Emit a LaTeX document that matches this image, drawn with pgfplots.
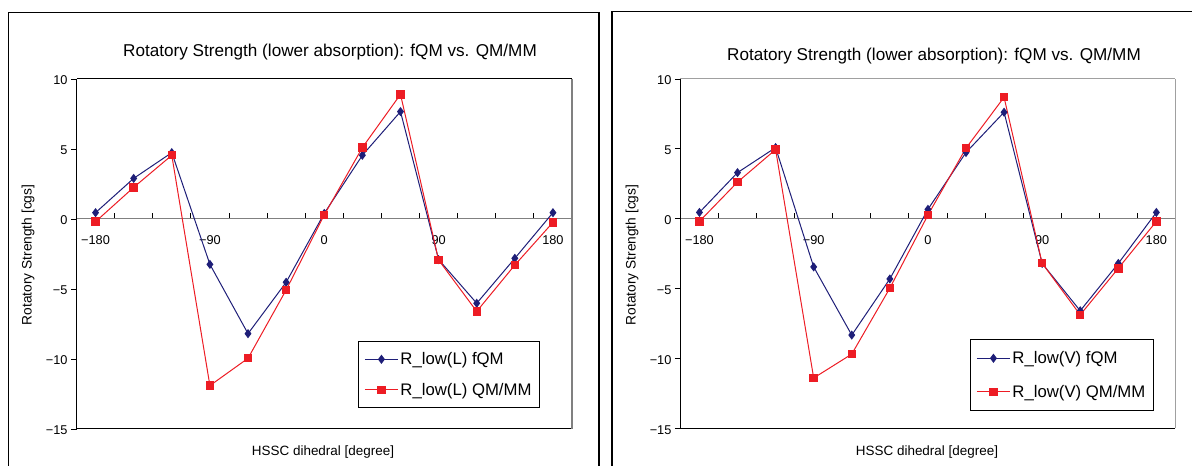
\documentclass[border=0pt]{standalone}
\usepackage{pgfplots}
\pgfplotsset{compat=1.18}
\usepackage{fontspec}
\setmainfont{Liberation Sans}
\definecolor{navy}{RGB}{30,30,120}
\definecolor{redc}{RGB}{237,28,36}
\definecolor{bordergray}{RGB}{128,128,128}
\definecolor{lightgray2}{RGB}{160,160,160}

\pgfplotsset{
 chart/.style={
  scale only axis, anchor=south west,
  xmin=-195, xmax=195, ymin=-15, ymax=10,
  axis x line=middle, axis y line=left,
  x axis line style={-, draw=bordergray, line width=1bp},
  y axis line style={-, draw=black, line width=1bp},
  xtick={-165,-135,...,165}, xticklabels={},
  xtick align=inside,
  extra x ticks={-180,-90,0,90,180},
  extra x tick labels={−180,−90,0,90,180},
  extra x tick style={major tick length=0pt, xticklabel style={yshift=-13bp}},
  ytick={-15,-10,-5,0,5,10},
  yticklabels={−15,−10,−5,0,5,10},
  ytick align=outside,
  yticklabel style={yshift=-1.5bp},
  major tick length=5.5bp,
  tick style={black, line width=0.9bp},
  tick label style={font=\fontsize{12.8}{14}\selectfont},
  clip=false,
  legend cell align=left,
  legend style={draw=black, line width=1bp, font=\fontsize{16.8}{19}\selectfont,
    inner xsep=6bp, inner ysep=9bp,
    /tikz/every even column/.append style={column sep=5bp}},
  legend image code/.code={\draw[mark repeat=2,mark phase=2,#1] plot coordinates {(0bp,0bp)(16.5bp,0bp)(33bp,0bp)};},
 },
 fqm/.style={navy, line width=1bp, mark=diamond*, mark size=3.8bp, mark options={fill=navy, draw=navy, solid}},
 qmmm/.style={redc, line width=1bp, mark=square*, mark size=3.7bp, mark options={fill=redc, draw=redc, solid}},
}

\begin{document}
\begin{tikzpicture}[x=1bp,y=1bp]
\useasboundingbox (0,0) rectangle (1192,466);
% outer frames
\draw[line width=1.2bp] (8.5,-5) -- (8.5,453.5) -- (599,453.5) -- (599,-5);
\draw[line width=1.2bp] (612,-5) -- (612,454.5) -- (1200,454.5);

% titles and labels
\node[font=\fontsize{17.2}{20}\selectfont] at (330,414) {Rotatory Strength (lower absorption): fQM vs. QM/MM};
\node[font=\fontsize{17.2}{20}\selectfont] at (934,410) {Rotatory Strength (lower absorption): fQM vs. QM/MM};
\node[font=\fontsize{13.5}{16}\selectfont] at (323,14) {HSSC dihedral [degree]};
\node[font=\fontsize{13.5}{16}\selectfont] at (927,14) {HSSC dihedral [degree]};
\node[font=\fontsize{13.8}{16}\selectfont, rotate=90] at (28,211) {Rotatory Strength [cgs]};
\node[font=\fontsize{13.8}{16}\selectfont, rotate=90] at (632,211) {Rotatory Strength [cgs]};

% left chart
\begin{axis}[chart, at={(76.5bp,37bp)}, width=495.5bp, height=350bp,
  legend style={at={(0.568,0.2514)}, anchor=north west, row sep=13bp}]
\draw[black, line width=1bp] (rel axis cs:0,0) -- (rel axis cs:1,0);
\draw[black, line width=1bp] (rel axis cs:0,1) -- (rel axis cs:1,1);
\draw[bordergray, line width=1.5bp] (rel axis cs:1,0) -- (rel axis cs:1,1);
\addplot[fqm] coordinates {
(-180,0.45) (-150,2.90) (-120,4.74) (-90,-3.24) (-60,-8.19) (-30,-4.52) (0,0.40)
(30,4.55) (60,7.67) (90,-2.90) (120,-6.02) (150,-2.81) (180,0.45)};
\addlegendentry{R\_low(L) fQM}
\addplot[qmmm] coordinates {
(-180,-0.19) (-150,2.26) (-120,4.55) (-90,-11.9) (-60,-9.95) (-30,-5.07) (0,0.29)
(30,5.10) (60,8.90) (90,-2.93) (120,-6.60) (150,-3.29) (180,-0.24)};
\addlegendentry{R\_low(L) QM/MM}
\end{axis}

% right chart
\begin{axis}[chart, at={(680.4bp,37.7bp)}, width=495bp, height=349.3bp,
  legend style={at={(0.5849,0.2557)}, anchor=north west, row sep=16bp, inner ysep=10bp}]
\draw[black, line width=1bp] (rel axis cs:0,0) -- (rel axis cs:1,0);
\draw[lightgray2, line width=1bp] (rel axis cs:0,1) -- (rel axis cs:1,1);
\draw[lightgray2, line width=1bp] (rel axis cs:1,0) -- (rel axis cs:1,1);
\addplot[fqm] coordinates {
(-180,0.45) (-150,3.30) (-120,5.09) (-90,-3.45) (-60,-8.33) (-30,-4.31) (0,0.67)
(30,4.74) (60,7.62) (90,-3.20) (120,-6.59) (150,-3.20) (180,0.45)};
\addlegendentry{R\_low(V) fQM}
\addplot[qmmm] coordinates {
(-180,-0.19) (-150,2.62) (-120,4.95) (-90,-11.4) (-60,-9.69) (-30,-4.97) (0,0.26)
(30,5.05) (60,8.69) (90,-3.19) (120,-6.88) (150,-3.55) (180,-0.19)};
\addlegendentry{R\_low(V) QM/MM}
\end{axis}
\end{tikzpicture}
\end{document}
